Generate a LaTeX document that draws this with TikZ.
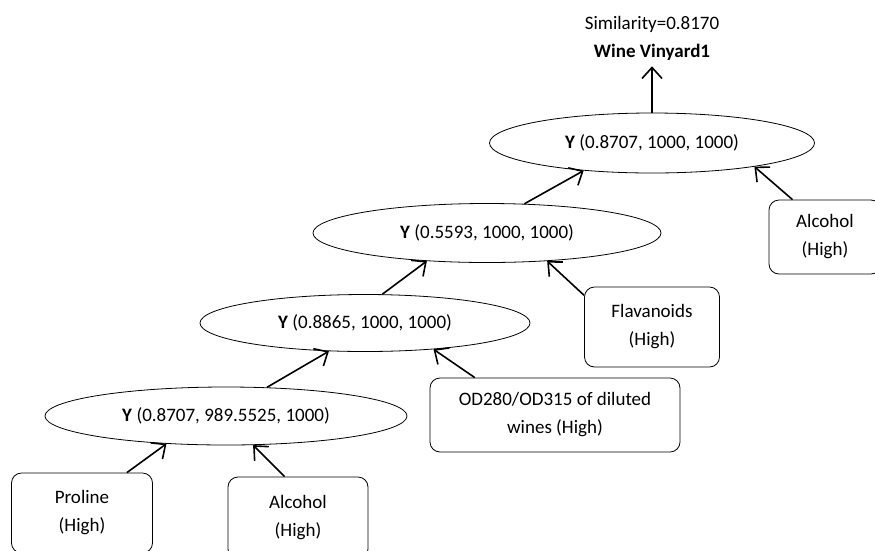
\documentclass[tikz,border=0pt]{standalone}
\usepackage{fontspec}
\setmainfont{Carlito}
\usetikzlibrary{shapes.geometric,arrows.meta}

\begin{document}
\begin{tikzpicture}[x=1pt, y=1pt, every node/.style={font=\fontsize{19}{28}\selectfont}, oval/.style={ellipse, draw, line width=0.8pt, inner sep=0pt}, attr/.style={rectangle, draw, line width=0.8pt, rounded corners=10pt, align=center, inner sep=0pt}, link/.style={-{Straight Barb[length=11pt,width=20pt]}, line width=1.6pt}]
    \clip (0,0) rectangle (875,-550);

    \node at (652,-38) [align=center, inner sep=0pt] (res) {Similarity=0.8170\\\textbf{Wine Vinyard1}};

    \node at (652,-143) [oval, minimum width=325pt, minimum height=60pt] (y4) {\textbf{Y} (0.8707, 1000, 1000)};
    \node at (487,-233) [oval, minimum width=348pt, minimum height=59pt] (y3) {\textbf{Y} (0.5593, 1000, 1000)};
    \node at (365,-323) [oval, minimum width=330pt, minimum height=57pt] (y2) {\textbf{Y} (0.8865, 1000, 1000)};
    \node at (226,-416) [oval, minimum width=362pt, minimum height=58pt] (y1) {\textbf{Y} (0.8707, 989.5525, 1000)};

    \node at (82,-513) [attr, minimum width=141pt, minimum height=80pt] (a1) {Proline\\(High)};
    \node at (298,-518) [attr, minimum width=140pt, minimum height=82pt] (a2) {Alcohol\\(High)};
    \node at (555,-415) [attr, minimum width=250pt, minimum height=74pt] (a3) {OD280/OD315 of diluted\\wines (High)};
    \node at (652,-327) [attr, minimum width=135pt, minimum height=80pt] (a4) {Flavanoids\\(High)};
    \node at (825,-237) [attr, minimum width=112pt, minimum height=74pt] (a5) {Alcohol\\(High)};

    %Top
    \draw[link, shorten >=6pt] (y4.north) -- (res.south);
    \draw[link] (y3.38) -- (y4.202);
    \draw[link] (a5.131) -- (y4.-13);

    %Middle
    \draw[link] (y2.59) -- (y3.205);
    \draw[link] (a4.155) -- (y3.-25);
    \draw[link] (y1.35) -- (y2.218);
    \draw[link] (a3.155) -- (y2.-21);

    %Bottom
    \draw[link] (a1.42) -- (y1.205);
    \draw[link] (a2.108) -- (y1.-47);
\end{tikzpicture}
\end{document}
